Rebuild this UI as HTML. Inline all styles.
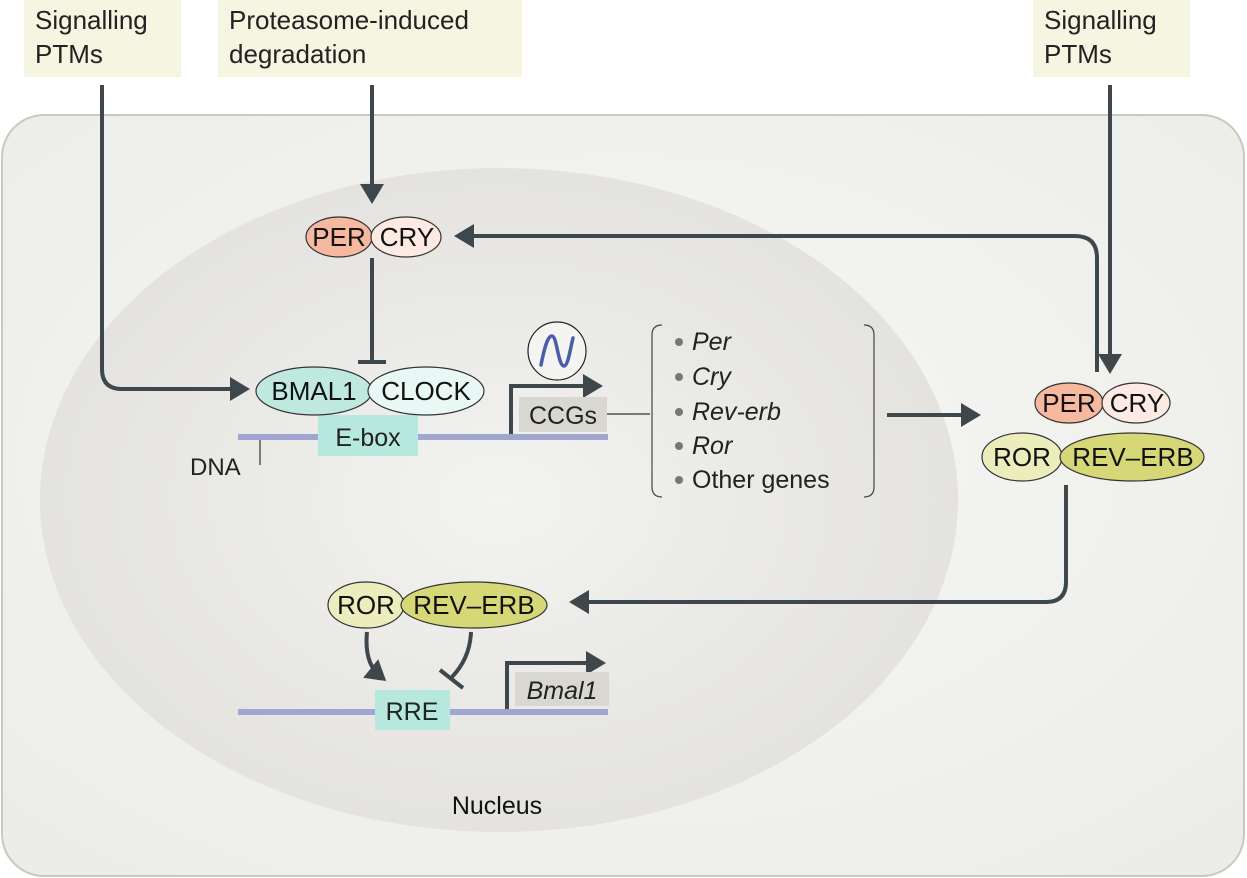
<!DOCTYPE html>
<html><head><meta charset="utf-8"><style>
html,body{margin:0;padding:0;background:#fff;}
svg{display:block;font-family:"Liberation Sans",sans-serif;}
</style></head><body>
<svg width="1247" height="878" viewBox="0 0 1247 878">
<defs>
<radialGradient id="cell" cx="0.5" cy="0.45" r="0.7"><stop offset="0" stop-color="#f7f7f5"/><stop offset="1" stop-color="#ecece8"/></radialGradient>
<radialGradient id="nuc" cx="0.5" cy="0.5" r="0.55"><stop offset="0" stop-color="#f3f3f1"/><stop offset="1" stop-color="#e2e1dd"/></radialGradient>
<marker id="ah" markerWidth="6" markerHeight="6" refX="3" refY="3" orient="auto" markerUnits="strokeWidth"><path d="M0,0 L5,3 L0,6 z" fill="#3d474c"/></marker>
</defs>
<rect x="0" y="0" width="1247" height="878" fill="#fff"/>
<rect x="2" y="115" width="1242" height="761" rx="42" fill="url(#cell)" stroke="#c9c9c1" stroke-width="2"/>
<ellipse cx="499" cy="500" rx="459" ry="332" fill="url(#nuc)"/>
<rect x="24" y="0" width="157" height="77" fill="#f5f5e1"/>
<rect x="218" y="0" width="304" height="77" fill="#f5f5e1"/>
<rect x="1033" y="0" width="157" height="77" fill="#f5f5e1"/>
<g font-size="26" fill="#222">
<text x="35" y="29">Signalling</text><text x="35" y="63">PTMs</text>
<text x="229" y="29">Proteasome-induced</text><text x="229" y="63">degradation</text>
<text x="1044" y="29">Signalling</text><text x="1044" y="63">PTMs</text>
</g>
<g fill="none" stroke="#3d474c" stroke-width="4">
<path d="M102,85 V369 Q102,389 122,389 H242" marker-end="url(#ah)"/>
<path d="M372,85 V196" marker-end="url(#ah)"/>
<path d="M372,258 V362 M358,362 H386"/>
<path d="M1097,372 V258 Q1097,236 1075,236 H462" marker-end="url(#ah)"/>
<path d="M1110,85 V366" marker-end="url(#ah)"/>
<path d="M887,415 H973" marker-end="url(#ah)"/>
<path d="M1066,485 V582 Q1066,602 1046,602 H577" marker-end="url(#ah)"/>
<path d="M511,437 V386 H595" marker-end="url(#ah)"/>
<path d="M507,712 V663 H598" marker-end="url(#ah)"/>
<path d="M367,632 Q364,663 380,676" marker-end="url(#ah)"/>
<path d="M471,632 Q470,658 452,677 M440,670 L463,688"/>
</g>
<path d="M238,437 H608 M238,712 H608" stroke="#9fa6cf" stroke-width="6"/>
<path d="M260,440 V465" stroke="#333" stroke-width="1.2"/>
<text x="190" y="475" font-size="24" fill="#222">DNA</text>
<rect x="318" y="415" width="100" height="41" fill="#b6e8de"/>
<text x="368" y="446" font-size="25" text-anchor="middle" fill="#222">E-box</text>
<rect x="375" y="690" width="75" height="40" fill="#b6e8de"/>
<text x="412" y="720" font-size="25" text-anchor="middle" fill="#222">RRE</text>
<rect x="519" y="397" width="88" height="35" fill="#d8d7d0"/>
<text x="563" y="424" font-size="25" text-anchor="middle" fill="#222">CCGs</text>
<path d="M607,414 H650" stroke="#333" stroke-width="1.2"/>
<rect x="515" y="672" width="94" height="34" fill="#d8d7d0"/>
<text x="562" y="699" font-size="25" text-anchor="middle" font-style="italic" fill="#222">Bmal1</text>
<circle cx="557" cy="351" r="29" fill="#f4f4f2" stroke="#222" stroke-width="1.2"/>
<path d="M541,365 C545,345 548,336 552,336 C557,336 558,366 564,366 C568,366 570,350 573,338" fill="none" stroke="#4a5ea8" stroke-width="3.5" stroke-linecap="round"/>
<path d="M662,325 Q652,325 652,335 V487 Q652,497 662,497 M864,325 Q874,325 874,335 V487 Q874,497 864,497" fill="none" stroke="#444" stroke-width="1.2"/>
<g fill="#777"><circle cx="679" cy="342" r="4"/><circle cx="679" cy="377" r="4"/><circle cx="679" cy="412" r="4"/><circle cx="679" cy="446" r="4"/><circle cx="679" cy="480" r="4"/></g>
<g font-size="25" fill="#222">
<text x="692" y="350" font-style="italic">Per</text>
<text x="692" y="385" font-style="italic">Cry</text>
<text x="692" y="420" font-style="italic">Rev-erb</text>
<text x="692" y="454" font-style="italic">Ror</text>
<text x="692" y="488">Other genes</text>
</g>
<g stroke="#333" stroke-width="1.2">
<ellipse cx="339" cy="237" rx="33" ry="20" fill="#f6b9a0"/>
<ellipse cx="406" cy="237" rx="35" ry="20" fill="#fdeae3"/>
<ellipse cx="314" cy="391" rx="58" ry="24" fill="#bfe9df"/>
<ellipse cx="426" cy="391" rx="58" ry="24" fill="#eaf8f5"/>
<ellipse cx="1069" cy="403" rx="34" ry="20" fill="#f6b9a0"/>
<ellipse cx="1136" cy="403" rx="34" ry="20" fill="#fdeae3"/>
<ellipse cx="1022" cy="457" rx="40" ry="24" fill="#ecedbd"/>
<ellipse cx="1132" cy="457" rx="72" ry="24" fill="#d6d777"/>
<ellipse cx="366" cy="605" rx="38" ry="23" fill="#ecedbd"/>
<ellipse cx="474" cy="605" rx="73" ry="23" fill="#d6d777"/>
</g>
<g font-size="26" fill="#111" text-anchor="middle">
<text x="339" y="246">PER</text><text x="407" y="246">CRY</text>
<text x="314" y="400">BMAL1</text><text x="426" y="400">CLOCK</text>
<text x="1069" y="412">PER</text><text x="1137" y="412">CRY</text>
<text x="1022" y="466">ROR</text><text x="1133" y="466">REV–ERB</text>
<text x="366" y="614">ROR</text><text x="474" y="614">REV–ERB</text>
<text x="497" y="814" font-size="25">Nucleus</text>
</g>
</svg>
</body></html>
